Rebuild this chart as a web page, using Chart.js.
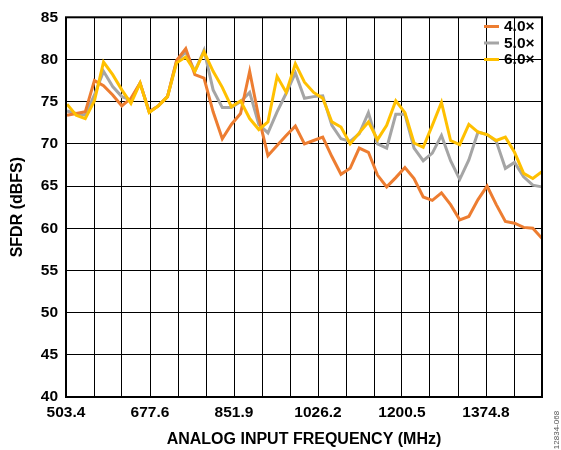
<!DOCTYPE html>
<html>
<head>
<meta charset="utf-8">
<script src="https://cdn.jsdelivr.net/npm/chart.js@4.4.0/dist/chart.umd.min.js"></script>
<style>
html,body{margin:0;padding:0;background:#fff;}
#wrap{width:561px;height:450px;position:relative;}
</style>
</head>
<body>
<div id="wrap"><canvas id="c" width="561" height="450"></canvas></div>
<script>
// ---- data ----
const freqMHz = [505.5,524.5,543.4,562.4,581.3,600.3,619.2,638.2,657.1,676.1,695.0,714.0,732.9,751.9,770.8,789.8,808.7,827.7,846.6,865.6,884.5,903.5,922.4,941.4,960.3,979.3,998.2,1017.2,1036.1,1055.1,1074.0,1093.0,1111.9,1130.9,1149.8,1168.8,1187.7,1206.7,1225.6,1244.6,1263.5,1282.5,1301.4,1320.4,1339.3,1358.3,1377.2,1396.2,1415.1,1434.1,1453.0,1472.0,1490.9];
const sfdr4x = [73.4,73.6,73.8,77.5,76.9,75.8,74.5,75.4,77.2,73.8,74.5,75.6,79.9,81.3,78.2,77.8,73.8,70.6,72.3,73.6,78.6,73.1,68.6,69.8,71.0,72.1,70.0,70.4,70.8,68.5,66.4,67.1,69.5,69.0,66.3,64.9,66.0,67.2,65.9,63.7,63.3,64.2,62.8,61.0,61.4,63.4,65.0,62.8,60.8,60.6,60.1,60.0,58.8];
const sfdr5x = [73.9,73.6,73.4,75.8,78.6,76.8,75.6,75.2,77.2,73.8,74.5,75.6,79.8,80.9,78.6,81.1,76.4,74.3,74.3,75.0,76.1,72.3,71.3,73.8,76.0,78.4,75.4,75.6,75.7,72.2,70.6,70.3,71.2,73.7,70.0,69.5,73.5,73.5,69.5,68.0,68.9,71.0,68.0,65.8,68.1,71.4,71.1,70.3,67.1,67.8,66.1,65.1,64.9];
const sfdr6x = [74.7,73.4,73.0,75.1,79.7,78.2,76.4,74.8,77.2,73.7,74.5,75.6,79.6,80.3,78.6,80.9,78.6,76.7,74.4,75.1,73.0,71.7,72.6,78.0,76.1,79.5,77.3,76.1,75.4,72.6,72.0,70.0,71.3,72.6,70.5,72.2,75.1,73.7,70.1,69.6,72.2,74.9,70.4,69.9,72.3,71.4,71.1,70.4,70.8,69.0,66.5,65.9,66.7];
const seriesNames = ['4.0×','5.0×','6.0×'];
const xMin = 503.4, xMax = 1491.1, xGridCount = 17;
const xTickLabels = ['503.4','677.6','851.9','1026.2','1200.5','1374.8'];
const yTickLabels = ['40','45','50','55','60','65','70','75','80','85'];
const noteText = '12834-068';

const colors = {o:'#ED7D31', g:'#A5A5A5', y:'#FFC000'};
const FONT = '"Liberation Sans", Arial, sans-serif';

function pts(ys){ return ys.map((v,i)=>({x:freqMHz[i], y:v})); }

const overlay = {
  id:'overlay',
  afterDatasetsDraw(chart){
    const {ctx, chartArea:a} = chart;
    ctx.save();
    ctx.strokeStyle = '#000';
    ctx.lineWidth = 2;
    ctx.strokeRect(a.left, a.top, a.right-a.left, a.bottom-a.top);
    // legend
    const items = [[seriesNames[0],colors.o,26.5],[seriesNames[1],colors.g,43],[seriesNames[2],colors.y,59.5]];
    ctx.font = 'bold 15.5px ' + FONT;
    ctx.textBaseline = 'middle';
    ctx.textAlign = 'left';
    items.forEach(([t,c,y])=>{
      ctx.strokeStyle = c; ctx.lineWidth = 3;
      ctx.beginPath(); ctx.moveTo(484,y); ctx.lineTo(499,y); ctx.stroke();
      ctx.fillStyle = '#000';
      ctx.fillText(t, 504, y+0.5);
    });
    ctx.restore();
  },
  afterDraw(chart){
    const ctx = chart.ctx;
    ctx.save();
    ctx.translate(557, 430);
    ctx.rotate(-Math.PI/2);
    ctx.font = '8px ' + FONT;
    ctx.fillStyle = '#555';
    ctx.textAlign = 'center';
    ctx.textBaseline = 'middle';
    ctx.fillText(noteText, 0, 0);
    ctx.restore();
  }
};

new Chart(document.getElementById('c'), {
  type:'line',
  data:{
    datasets:[
      {label:seriesNames[0], data:pts(sfdr4x), borderColor:colors.o, order:1},
      {label:seriesNames[1], data:pts(sfdr5x), borderColor:colors.g, order:2},
      {label:seriesNames[2], data:pts(sfdr6x), borderColor:colors.y, order:0}
    ].map(d=>Object.assign(d,{borderWidth:3, pointRadius:0, tension:0, fill:false, borderJoinStyle:'miter', borderCapStyle:'butt'}))
  },
  options:{
    responsive:false,
    animation:false,
    layout:{padding:{left:0, right:19, top:15, bottom:0}},
    plugins:{legend:{display:false}, tooltip:{enabled:false}},
    scales:{
      x:{
        type:'linear', min:xMin, max:xMax,
        afterBuildTicks(s){
          const t=[];
          for(let i=0;i<=xGridCount;i++) t.push({value: xMin + i*(xMax-xMin)/xGridCount});
          s.ticks = t;
        },
        afterFit(s){ s.height = 53; },
        grid:{color:'#000', lineWidth:1, drawTicks:false},
        border:{display:false},
        ticks:{
          autoSkip:false, maxRotation:0, padding:6, color:'#000',
          font:{family:FONT, size:15.5, weight:'bold'},
          callback(v, i){ return (i%3===0) ? (xTickLabels[i/3] || '') : ''; }
        },
        title:{display:true, text:'ANALOG INPUT FREQUENCY (MHz)', color:'#000',
          font:{family:FONT, size:16, weight:'bold'}, padding:{top:0,bottom:1}}
      },
      y:{
        min:40, max:85,
        afterBuildTicks(s){ s.ticks = yTickLabels.map(l=>({value:Number(l)})); },
        afterFit(s){ s.width = 66; },
        grid:{color:'#000', lineWidth:1, drawTicks:false},
        border:{display:false},
        ticks:{padding:8, color:'#000', font:{family:FONT, size:15.5, weight:'bold'},
          callback(v){ return String(v); }},
        title:{display:true, text:'SFDR (dBFS)', color:'#000',
          font:{family:FONT, size:16, weight:'bold'}, padding:{top:8,bottom:0}}
      }
    }
  },
  plugins:[overlay]
});
</script>
</body>
</html>
